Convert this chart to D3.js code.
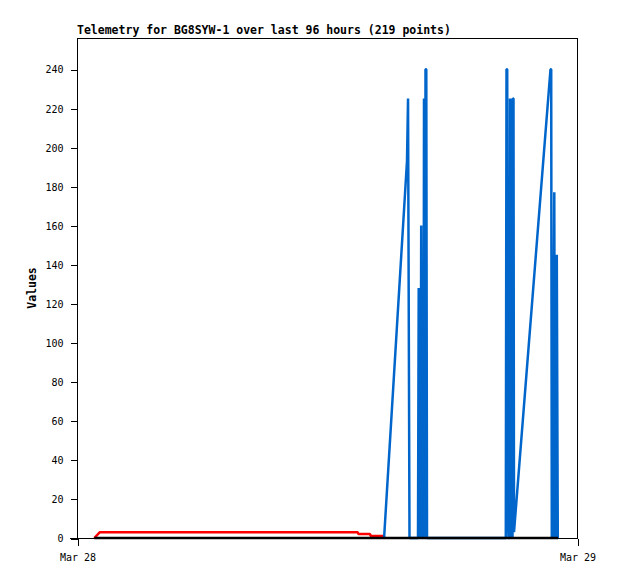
<!DOCTYPE html>
<html lang="en">
<head>
	<meta charset="UTF-8">
	<title>telemetry BG8SYW-1</title>
	<script src="https://d3js.org/d3.v7.min.js"></script>
	<style>
		body { margin: 0; background: #fff; }
		text { font-family: "DejaVu Sans Mono", monospace; }
	</style>
</head>
<body>
	<svg id="chart" width="618" height="579"></svg>
<script>
// hours after Mar 28 00:00, value
var red_pts = [
	[0.83, 0], [1.10, 3], [13.47, 3], [13.51, 2], [14.06, 2], [14.11, 1], [14.69, 1], [14.78, 0]
];
var blue_pts = [
	[14.74, 0], [15.84, 193], [15.89, 225], [15.96, 0],
	[16.368, 0], [16.402, 128], [16.430, 0], [16.454, 64], [16.488, 0], [16.522, 160], [16.560, 0],
	[16.584, 112], [16.632, 0], [16.656, 225], [16.704, 0], [16.728, 240], [16.766, 240], [16.800, 0],
	[20.582, 0], [20.616, 240], [20.650, 240], [20.688, 8], [20.712, 0], [20.760, 0], [20.784, 225],
	[20.832, 0], [20.856, 225], [20.904, 0], [20.928, 225], [20.952, 225], [20.976, 3],
	[22.728, 240], [22.762, 240], [22.790, 0], [22.814, 128], [22.858, 0], [22.886, 128], [22.910, 177],
	[22.944, 0], [22.973, 145], [23.002, 0], [23.030, 145], [23.054, 72], [23.078, 0], [23.088, 0]
];
var black_pts = [[0.83, 0], [23.09, 0]];
var y_ticks = [0, 20, 40, 60, 80, 100, 120, 140, 160, 180, 200, 220, 240];
var x_ticks = [0, 24];
var x_labels = ["Mar 28", "Mar 29"];

var svg = d3.select("#chart");
var left = 77, right = 577, top_ = 38, bottom = 538;

var x = d3.scaleLinear().domain([0, 24]).range([left, right]);
var y = d3.scaleLinear().domain([0, 256]).range([bottom, top_]);

// frame
svg.append("rect")
	.attr("x", left + 0.5).attr("y", top_ + 0.5)
	.attr("width", right - left).attr("height", bottom - top_)
	.attr("fill", "none").attr("stroke", "#000").attr("stroke-width", 1)
	.attr("shape-rendering", "crispEdges");

var yAxis = svg.append("g")
	.attr("transform", "translate(" + (left + 0.5) + ",0.5)")
	.call(d3.axisLeft(y).tickValues(y_ticks).tickSize(7).tickPadding(7).tickSizeOuter(0));
yAxis.select(".domain").remove();
yAxis.selectAll("line").attr("shape-rendering", "crispEdges");
yAxis.selectAll("text").attr("font-size", "10px").attr("font-family", "DejaVu Sans Mono").attr("fill", "#000");

var xAxis = svg.append("g")
	.attr("transform", "translate(0.5," + (bottom + 0.5) + ")")
	.call(d3.axisBottom(x).tickValues(x_ticks).tickSize(7).tickPadding(8)
		.tickFormat(function(d, i){ return x_labels[i]; }).tickSizeOuter(0));
xAxis.select(".domain").remove();
xAxis.selectAll("line").attr("shape-rendering", "crispEdges");
xAxis.selectAll("text").attr("font-size", "10px").attr("font-family", "DejaVu Sans Mono").attr("fill", "#000");

// 0 tick extends left of axis
svg.append("line")
	.attr("x1", 70).attr("x2", left).attr("y1", bottom + 0.5).attr("y2", bottom + 0.5)
	.attr("stroke", "#000").attr("shape-rendering", "crispEdges");

var line = d3.line()
	.x(function(d){ return x(d[0]); })
	.y(function(d){ return y(d[1]); });

var series = [
	{pts: red_pts, color: "#ff0000"},
	{pts: blue_pts, color: "#0066cc"},
	{pts: black_pts, color: "#000000"}
];
svg.selectAll(".series")
	.data(series)
	.enter()
	.append("path")
	.attr("class", "series")
	.attr("d", function(d){ return line(d.pts); })
	.attr("fill", "none")
	.attr("stroke", function(d){ return d.color; })
	.attr("stroke-width", 2.5)
	.attr("stroke-linejoin", "miter")
	.attr("stroke-miterlimit", 1);

svg.append("text")
	.attr("x", left).attr("y", 34)
	.attr("font-size", "11.5px").attr("font-weight", "bold")
	.text("Telemetry for BG8SYW-1 over last 96 hours (219 points)");

svg.append("text")
	.attr("transform", "translate(36," + ((top_ + bottom) / 2) + ") rotate(-90)")
	.attr("text-anchor", "middle")
	.attr("font-size", "11.5px").attr("font-weight", "bold")
	.text("Values");
</script>
</body>
</html>
